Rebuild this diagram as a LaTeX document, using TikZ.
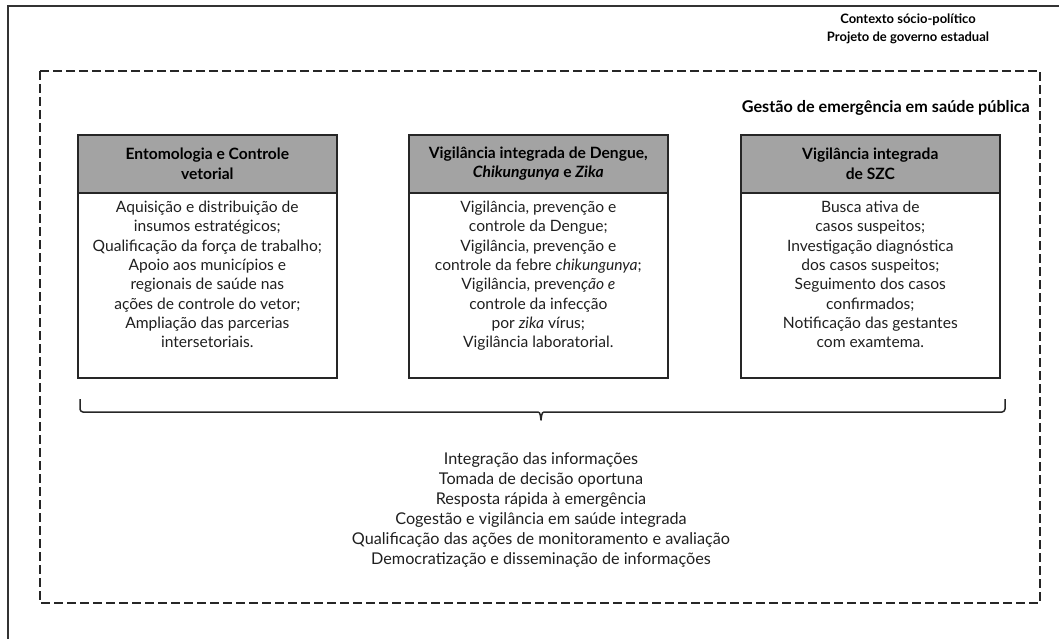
\documentclass[tikz,border=0pt]{standalone}
\usepackage{fontspec}
\setmainfont{Lato}
\begin{document}
\begin{tikzpicture}[x=1pt,y=-1pt,
  frame/.style={draw=black!80,line width=1.8pt},
  dashframe/.style={draw=black!85,line width=1.6pt,dash pattern=on 9pt off 4pt},
  head/.style={draw=black!85,line width=1.6pt,fill=black!36,minimum width=259pt,minimum height=58pt,anchor=north west,inner sep=0pt,align=center,font=\bfseries\fontsize{15.6}{19.5}\selectfont},
  body/.style={draw=black!85,line width=1.6pt,minimum width=259pt,minimum height=185pt,anchor=north west,inner sep=0pt},
  bodytext/.style={anchor=north,inner sep=0pt,align=center,text=black!88,font=\fontsize{15.6}{19.3}\selectfont},
  toplabel/.style={inner sep=0pt,align=center,font=\bfseries\fontsize{13}{18}\selectfont}]
\useasboundingbox (0,0) rectangle (1059,639);
\clip (0,0) rectangle (1059,639);
\draw[frame] (8,6) rectangle (1075,660);
\draw[dashframe] (40,71) rectangle (1040,603);
\node[toplabel] (ctx) at (908,29) {Contexto sócio-político\\Projeto de governo estadual};
\node[toplabel,anchor=east,font=\bfseries\fontsize{16.2}{18}\selectfont] (gest) at (1030,108) {Gestão de emergência em saúde pública};
% boxes
\node[head] (h1) at (77,134) {Entomologia e Controle\\vetorial};
\node[body] (b1) at (77,192) {};
\node[head] (h2) at (408,134) {Vigilância integrada de Dengue,\\\textit{Chikungunya} e \textit{Zika}};
\node[body] (b2) at (408,192) {};
\node[head] (h3) at (740,134) {Vigilância integrada\\de SZC};
\node[body] (b3) at (740,192) {};
\node[bodytext] (t1) at ([yshift=-9pt]b1.north) {Aquisição e distribuição de\\insumos estratégicos;\\Qualificação da força de trabalho;\\Apoio aos municípios e\\regionais de saúde nas\\ações de controle do vetor;\\Ampliação das parcerias\\intersetoriais.};
\node[bodytext] (t2) at ([yshift=-9pt]b2.north) {Vigilância, prevenção e\\controle da Dengue;\\Vigilância, prevenção e\\controle da febre \textit{chikungunya};\\Vigilância, preven\textit{ção e}\\controle da infecção\\por \textit{zika} vírus;\\Vigilância laboratorial.};
\node[bodytext] (t3) at ([yshift=-9pt]b3.north) {Busca ativa de\\casos suspeitos;\\Investigação diagnóstica\\dos casos suspeitos;\\Seguimento dos casos\\confirmados;\\Notificação das gestantes\\com examtema.};
% brace
\coordinate (bl) at (80,399);
\coordinate (br) at (1005,399);
\coordinate (bt) at (541,420);
\draw[draw=black!85,line width=1.5pt,line join=round]
  (bl) -- (80,409) arc[start angle=180,end angle=90,radius=3] -- (536,412)
  .. controls (540,412) .. (bt) .. controls (542,412) .. (546,412)
  -- (1002,412) arc[start angle=90,end angle=0,radius=3] -- (br);
\node[bodytext,font=\fontsize{16.2}{20}\selectfont] (sum) at (541,452) {Integração das informações\\Tomada de decisão oportuna\\Resposta rápida à emergência\\Cogestão e vigilância em saúde integrada\\Qualificação das ações de monitoramento e avaliação\\Democratização e disseminação de informações};
\end{tikzpicture}
\end{document}
